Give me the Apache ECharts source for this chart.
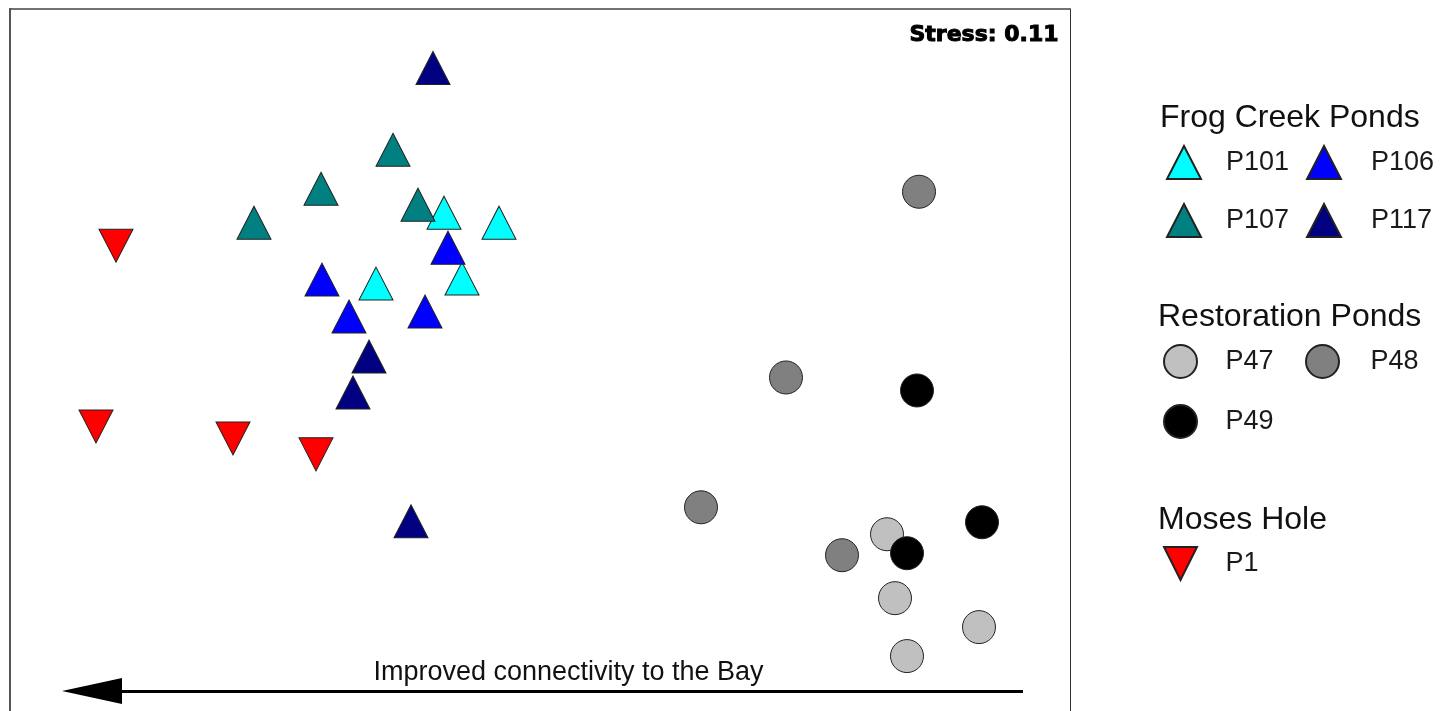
<!DOCTYPE html>
<html>
<head>
<meta charset="utf-8">
<script src="https://cdn.jsdelivr.net/npm/echarts@6/dist/echarts.min.js"></script>
<style>
  html,body{margin:0;padding:0;background:#fff;}
  #chart{width:1444px;height:711px;}
</style>
</head>
<body>
<div id="chart"></div>
<script>
// ordination scores, measured in plot units (origin top-left of the frame, y grows downward)
const p101 = [[434,204],[489,214],[366,275],[452,270]]
const p106 = [[438,239],[312,271],[339,308],[415,303]]
const p107 = [[383,141],[311,180],[244,214],[408,196]]
const p117 = [[423,59],[359,348],[343,384],[401,513]]
const p47 = [[877,526],[885,590],[969,619],[897,648]]
const p48 = [[909,183],[776,369],[691,499],[832,547]]
const p49 = [[907,382],[972,514],[897,545]]
const p1 = [[106,237],[86,418],[223,430],[306,446]]

const groups = ['Frog Creek Ponds', 'Restoration Ponds', 'Moses Hole']
const arrowText = 'Improved connectivity to the Bay'
const stressText = 'Stress: 0.11'

const up = 'triangle'
const down = 'path://M0,0 L2,0 L1,2 Z'
const seriesList = [
    {name:'P101', data:p101, color:'#00FFFF', symbol:up},
    {name:'P107', data:p107, color:'#008080', symbol:up},
    {name:'P106', data:p106, color:'#0000FF', symbol:up},
    {name:'P117', data:p117, color:'#000080', symbol:up},
    {name:'P1', data:p1, color:'#FF0000', symbol:down},
    {name:'P48', data:p48, color:'#808080', symbol:'circle'},
    {name:'P47', data:p47, color:'#C0C0C0', symbol:'circle'},
    {name:'P49', data:p49, color:'#000000', symbol:'circle'},
]

// legend slots: [name, icon centre x, icon centre y, text left]
const legendSlots = [
    ['P101',1183,162,1225],['P106',1323,162,1370],
    ['P107',1183,220,1225],['P117',1323,220,1370],
    ['P47',1180,361,1225],['P48',1322,361,1370],
    ['P49',1180,421,1225],
    ['P1',1180,563,1225],
]
const headerTop = [[1160,102],[1158,301],[1158,504]]

const font = '"Liberation Sans", Arial, sans-serif'
const chart = echarts.init(document.getElementById('chart'))

const series = seriesList.map(s => ({
    name: s.name,
    type: 'scatter',
    data: s.data,
    symbol: s.symbol,
    symbolSize: s.symbol === 'circle' ? 33 : [34, 33],
    itemStyle: {color: s.color, borderColor: '#222', borderWidth: 1, opacity: 1},
    emphasis: {disabled: true},
    z: 3
}))
series.push({
    name: 'arrow',
    type: 'line',
    data: [],
    silent: true,
    markLine: {
        silent: true,
        symbol: ['none', 'triangle'],
        symbolSize: [26, 60],
        lineStyle: {color: '#000', width: 3, type: 'solid'},
        label: {
            show: true,
            position: 'middle',
            formatter: arrowText,
            color: '#111',
            fontFamily: font,
            fontSize: 27,
            distance: 5,
            padding: [0, 0, 0, 22]
        },
        data: [[{coord: [1013, 683]}, {coord: [82, 683]}]]
    }
})

// frame: only top, left and right edges show, the bottom runs off the page
const frameAxis = (extra, color, width) => Object.assign({
    type: 'value',
    axisLine: {show: true, onZero: false, lineStyle: {color: color, width: width}},
    axisTick: {show: false},
    axisLabel: {show: false},
    splitLine: {show: false}
}, extra)

chart.setOption({
    animation: false,
    grid: {left: 10, top: 9, width: 1060, height: 703, show: false},
    xAxis: frameAxis({min: 0, max: 1060, position: 'top'}, '#444', 1.5),
    yAxis: [
        frameAxis({min: 0, max: 703, inverse: true, position: 'left'}, '#555', 2),
        frameAxis({min: 0, max: 703, inverse: true, position: 'right'}, '#333', 1)
    ],
    legend: legendSlots.map(l => {
        const s = seriesList.find(x => x.name === l[0])
        return {
            data: [{name: l[0], icon: s.symbol}],
            left: l[1] - 17,
            top: l[2] - 17,
            padding: 0,
            itemWidth: 34,
            itemHeight: 33,
            selectedMode: false,
            textStyle: {fontFamily: font, fontSize: 27, color: '#1a1a1a', padding: [0, 0, 0, l[3] - (l[1] + 17) - 5]}
        }
    }),
    graphic: [
        ...groups.map((g, i) => ({
            type: 'text',
            left: headerTop[i][0],
            top: headerTop[i][1],
            style: {text: g, fontFamily: font, fontSize: 32, fill: '#111'}
        })),
        {
            type: 'text',
            right: 1444 - 1059,
            top: 24,
            style: {
                text: stressText, fontFamily: '"DejaVu Sans", sans-serif', fontWeight: 'bold', fontSize: 22,
                fill: '#000', stroke: '#000', lineWidth: 1
            }
        }
    ],
    series: series
})
</script>
</body>
</html>
